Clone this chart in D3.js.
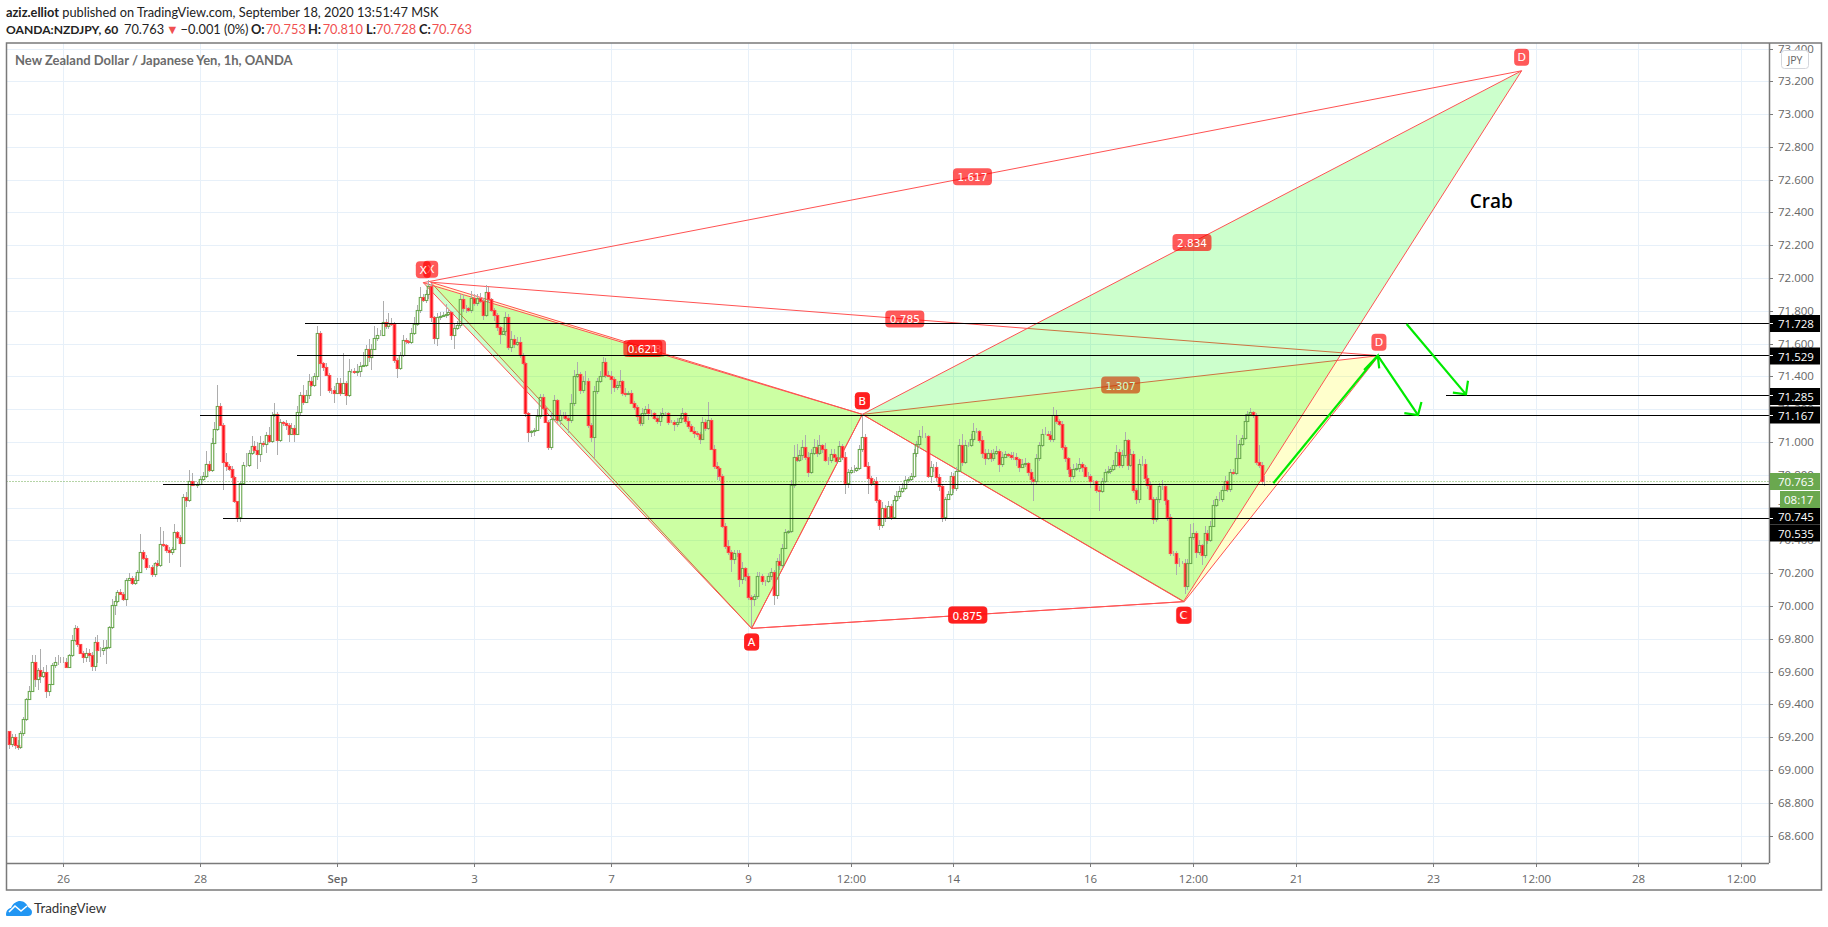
<!DOCTYPE html>
<html><head><meta charset="utf-8">
<script src="https://cdnjs.cloudflare.com/ajax/libs/d3/7.8.5/d3.min.js"></script>
<style>html,body{margin:0;padding:0;background:#fff;overflow:hidden}svg{display:block}</style>
</head><body><svg id="c" width="1828" height="927"></svg>
<script>
const firstOpen = 69.24;
const closes = [
69.16,69.20,69.15,69.14,69.225,69.31,69.43,69.48,69.66,69.555,
69.61,69.57,69.60,69.48,69.525,69.64,69.66,69.66,69.66,69.66,
69.63,69.70,69.79,69.865,69.77,69.715,69.69,69.715,69.70,69.635,
69.78,69.73,69.73,69.745,69.75,69.87,70.005,70.03,70.085,70.075,
70.04,70.16,70.17,70.14,70.16,70.21,70.33,70.29,70.24,70.24,
70.195,70.26,70.25,70.38,70.37,70.34,70.33,70.35,70.45,70.42,
70.385,70.665,70.645,70.76,70.74,70.74,70.745,70.775,70.79,70.865,
70.83,70.995,71.08,71.22,71.105,70.88,70.855,70.835,70.785,70.64,
70.545,70.75,70.86,70.86,70.93,70.975,70.95,70.925,70.995,70.99,
71.04,71.005,71.165,71.17,71.01,71.12,71.115,71.105,71.05,71.085,
71.05,71.18,71.285,71.245,71.285,71.375,71.345,71.40,71.665,71.48,
71.46,71.41,71.32,71.32,71.30,71.36,71.30,71.36,71.285,71.435,
71.43,71.425,71.435,71.465,71.47,71.57,71.52,71.57,71.635,71.655,
71.655,71.73,71.71,71.725,71.72,71.50,71.45,71.53,71.625,71.615,
71.61,71.665,71.72,71.805,71.885,71.865,71.90,71.95,71.76,71.635,
71.765,71.77,71.775,71.78,71.79,71.655,71.695,71.715,71.87,71.815,
71.815,71.805,71.88,71.85,71.88,71.86,71.775,71.915,71.87,71.805,
71.775,71.70,71.66,71.675,71.76,71.58,71.63,71.595,71.61,71.53,
71.48,71.175,71.06,71.065,71.075,71.16,71.275,71.205,71.125,70.97,
71.14,71.255,71.135,71.165,71.165,71.145,71.135,71.24,71.40,71.415,
71.32,71.37,71.37,71.105,71.03,71.31,71.37,71.405,71.49,71.41,
71.405,71.385,71.335,71.35,71.37,71.30,71.295,71.30,71.24,71.215,
71.16,71.115,71.175,71.20,71.175,71.175,71.145,71.13,71.165,71.175,
71.175,71.125,71.125,71.11,71.125,71.145,71.175,71.13,71.10,71.07,
71.055,71.05,71.02,71.12,71.085,71.135,70.96,70.855,70.84,70.795,
70.485,70.365,70.33,70.285,70.32,70.32,70.165,70.23,70.18,70.055,
70.04,70.06,70.185,70.185,70.15,70.15,70.18,70.21,70.065,70.275,
70.25,70.355,70.45,70.455,70.74,70.91,70.89,70.92,70.97,70.91,
70.815,70.93,70.97,70.93,70.98,70.955,70.89,70.89,70.925,70.91,
70.885,70.975,70.91,70.75,70.815,70.83,70.83,70.84,70.96,71.03,
70.855,70.78,70.75,70.765,70.645,70.495,70.595,70.545,70.61,70.545,
70.645,70.67,70.70,70.72,70.77,70.775,70.79,70.93,70.985,71.035,
71.035,71.035,70.79,70.845,70.845,70.785,70.73,70.54,70.655,70.68,
70.79,70.72,70.825,70.98,70.875,70.98,70.98,71.02,71.065,71.065,
71.015,70.935,70.90,70.93,70.905,70.93,70.945,70.865,70.91,70.925,
70.92,70.91,70.91,70.895,70.85,70.865,70.87,70.815,70.775,70.76,
70.905,70.98,71.05,71.05,71.045,71.02,71.165,71.13,71.11,70.97,
70.90,70.835,70.795,70.835,70.84,70.865,70.85,70.795,70.795,70.76,
70.76,70.71,70.70,70.76,70.815,70.825,70.835,70.86,70.94,70.86,
70.92,71.01,70.86,70.925,70.71,70.65,70.865,70.865,70.78,70.735,
70.655,70.53,70.655,70.73,70.73,70.645,70.54,70.325,70.325,70.26,
70.265,70.265,70.12,70.265,70.42,70.445,70.33,70.37,70.31,70.445,
70.40,70.49,70.615,70.65,70.655,70.71,70.76,70.715,70.815,70.81,
70.905,70.985,71.025,71.13,71.17,71.18,71.165,70.88,70.86,70.76,70.763];
// wick lengths above / below the body, in hundredths of a yen
const wickUp = [
0,2,2,3,1,1,1,3,4,4, 1,13,3,4,0,1,3,4,3,3, 2,1,3,2,1,0,1,3,2,2, 3,4,2,5,4,1,4,3,1,2,
1,1,3,1,2,1,11,1,2,1, 1,1,2,10,8,1,2,1,5,1, 1,2,3,7,5,2,1,2,3,8, 2,3,4,13,2,1,5,1,2,1,
0,1,2,7,2,6,3,5,4,1, 2,5,2,7,1,2,1,2,1,3, 2,4,2,6,3,4,2,2,4,1, 1,2,1,1,2,3,3,18,1,7,
1,2,4,2,8,2,6,3,7,4, 3,13,2,6,3,1,1,2,3,1, 1,3,4,3,6,2,3,4,2,1, 2,2,2,6,2,1,3,2,3,3,
2,1,4,2,2,3,2,4,3,1, 1,1,1,2,3,2,5,2,3,3, 1,1,1,1,1,4,2,2,1,1, 4,3,1,3,2,2,2,5,4,7,
1,3,6,2,1,3,2,3,3,2, 2,3,1,2,7,1,3,1,2,1, 1,1,3,2,3,2,1,2,2,3, 1,1,1,1,2,2,3,1,2,1,
2,1,1,3,2,11,1,2,2,1, 1,2,4,1,2,2,2,4,1,2, 1,1,2,2,1,1,2,2,1,2, 4,2,2,1,3,7,8,3,4,7,
3,3,5,4,6,1,4,2,3,3, 1,3,1,3,2,2,3,1,2,14, 2,2,1,1,2,1,4,2,3,1, 3,3,3,3,2,1,2,3,2,4,
6,2,1,4,2,3,2,1,1,2, 3,2,2,4,7,3,2,3,5,2, 1,2,2,3,2,3,3,1,3,2, 1,2,3,2,1,3,3,1,2,1,
2,2,3,4,2,2,5,3,1,2, 1,1,1,3,3,4,1,1,2,1, 1,1,2,2,2,3,1,3,4,2, 3,5,1,3,2,1,3,5,3,2,
2,1,1,2,4,1,1,2,1,1, 3,1,2,2,8,6,1,3,1,4, 2,3,3,2,4,2,3,1,2,2, 14,3,2,4,2,3,1,1,10,2,3];
const wickDown = [
3,2,2,2,1,2,1,0,0,5, 7,4,1,4,3,1,2,2,1,1, 1,1,1,1,2,1,4,3,4,3, 3,8,4,3,10,1,1,6,1,1,
1,4,1,1,1,1,1,1,2,1, 2,2,1,1,1,2,7,2,1,1, 15,1,4,1,1,1,2,1,1,1, 1,1,1,1,1,17,3,1,4,1,
3,3,1,1,1,1,2,9,5,2, 6,1,1,1,9,1,2,3,5,1, 5,1,2,2,1,2,1,1,2,20, 3,1,2,3,6,1,2,1,6,1,
1,1,2,4,1,1,3,8,1,2, 1,1,2,2,1,2,6,1,1,2, 1,1,1,1,2,1,2,3,3,4, 5,2,1,2,1,3,9,1,2,2,
3,1,2,2,2,1,3,1,2,1, 4,2,6,1,3,2,3,2,1,2, 1,2,6,3,3,1,2,1,1,2, 2,1,2,3,2,1,8,2,2,1,
3,2,2,2,3,13,2,1,1,2, 1,9,3,2,2,2,2,1,1,2, 3,2,2,1,4,2,1,2,3,2, 1,2,1,4,2,1,1,2,2,1,
3,2,3,1,2,1,1,2,7,3, 1,2,2,8,3,2,5,3,3,2, 17,4,2,1,2,3,1,2,6,2, 3,2,1,1,1,2,1,1,3,2,
3,1,1,2,1,2,1,3,2,1, 2,1,2,7,3,1,2,1,1,2, 1,10,2,1,2,3,2,3,1,2, 1,1,2,1,1,2,1,1,2,2,
1,1,1,4,3,2,3,3,2,1, 1,3,2,1,2,1,1,1,2,1, 2,3,4,1,3,2,1,5,2,1, 1,2,2,4,3,1,2,2,3,12,
2,2,1,1,1,2,2,2,1,2, 2,3,4,2,1,2,3,1,2,4, 2,2,12,1,1,1,2,1,1,2, 2,2,3,1,2,3,2,1,2,2,
1,3,2,3,2,3,2,2,2,7, 2,1,5,2,1,2,4,2,6,2, 2,1,1,1,1,2,1,2,2,1, 1,1,1,1,1,1,2,2,2,2,3];

const timeTickBars = [19,67,115,163,211,259,295,331,379,415,451,499,535,571,607];
const timeTickLabels = ["26","28","Sep","3","7","9","12:00","14","16","12:00","21","23","12:00","28","12:00"];
const priceTicks = [68.6,68.8,69,69.2,69.4,69.6,69.8,70,70.2,70.4,70.6,70.8,71,71.2,71.4,71.6,71.8,72,72.2,72.4,72.6,72.8,73,73.2,73.4];

const levelPrices = [71.728,71.529,71.285,71.167,70.745,70.535];
const levelStartBars = [103.6,100.8,503.7,67,54,75];
const lastPrice = 70.763;

// harmonic patterns: vertices as [bar, price]
const crabGreen = {X:[145.06,71.974],A:[260.1,69.866],B:[298.9,71.171],C:[411.4,70.029],D:[529.9,73.266]};
const crabYellow = {X:[147.65,71.977],A:[260.1,69.866],B:[298.9,71.171],C:[411.7,70.029],D:[479.9,71.529]};
const greenRatios = {XB:"0.621",AC:"0.875",BD:"2.834",XD:"1.617"};
const yellowRatios = {XB:"0.618",AC:"0.875",BD:"1.307",XD:"0.785"};

// hand-drawn green arrows: start, tip, barb, barb as [bar, price]
const arrows = [
 [[442.9,70.751],[479.5,71.529],[480.0,71.452],[474.7,71.441]],
 [[479.5,71.529],[493.6,71.167],[494.8,71.246],[488.8,71.179]],
 [[489.6,71.722],[510.4,71.293],[511.1,71.376],[505.8,71.303]]
];
const noteText = "Crab", notePos = [519.3,72.47];

const W=1828,H=927, L=6.5,T=43,R=1769,B=863, OUTR=1821.5, OUTB=890;
const FONT='"Open Sans",sans-serif';
const svg=d3.select("#c");
const x=d3.scaleLinear().domain([0,607]).rangeRound([9,1741]);
const y=d3.scaleLinear().domain([68.6,73.4]).rangeRound([835.5,48.5]);
const xf=d3.scaleLinear().domain([0,607]).range([9.3,9.3+2.854*607]);
const yf=d3.scaleLinear().domain([68.6,73.4]).range([836,48.8]);

svg.append("defs").append("clipPath").attr("id","plot").append("rect")
  .attr("x",L).attr("y",T).attr("width",R-L).attr("height",B-T);

const plot=svg.append("g").attr("clip-path","url(#plot)");
// grid
const gridC="#e7f0f9";
const gy=plot.append("g").attr("transform",`translate(${L},0)`).call(d3.axisRight(y).tickValues(priceTicks).tickSize(R-L).tickFormat(""));
const gx=plot.append("g").attr("transform",`translate(0,${T})`).call(d3.axisBottom(x).tickValues(timeTickBars).tickSize(B-T).tickFormat(""));
[gy,gx].forEach(g=>{g.select(".domain").remove();g.selectAll("line").attr("stroke",gridC);});

// last price dotted line
plot.append("line").attr("x1",L).attr("x2",R).attr("y1",y(lastPrice)+.5).attr("y2",y(lastPrice)+.5)
 .attr("stroke","#6aa84f").attr("stroke-dasharray","1 2");

function P(p){return [xf(p[0]),yf(p[1])];}
function mid(a,b){const p=P(a),q=P(b);return[(p[0]+q[0])/2,(p[1]+q[1])/2];}
const line=d3.line();
function tag(g,pos,text,w){
  const h=17;
  g.append("rect").attr("x",pos[0]-w/2).attr("y",pos[1]-h/2).attr("width",w).attr("height",h).attr("rx",4)
    .attr("fill","rgba(255,0,0,.65)");
  g.append("text").attr("x",pos[0]).attr("y",pos[1]+.5).attr("text-anchor","middle").attr("dominant-baseline","central")
    .attr("font-family",'"DejaVu Sans",sans-serif').attr("font-size",w>20?10.5:11).attr("fill","#fff").text(text);
}
function pattern(pt,ratios,fill){
  const g=plot.append("g");
  [[pt.X,pt.A,pt.B],[pt.B,pt.C,pt.D]].forEach(t=>{
    g.append("path").attr("d",line(t.map(P))+"Z").attr("fill",fill).attr("stroke","none");
  });
  [[pt.X,pt.A],[pt.A,pt.B],[pt.B,pt.C],[pt.C,pt.D],[pt.X,pt.B],[pt.B,pt.D],[pt.A,pt.C],[pt.X,pt.D]].forEach(s=>{
    g.append("path").attr("d",line(s.map(P))).attr("fill","none").attr("stroke","#ff5252").attr("stroke-width",1);
  });
  tag(g,mid(pt.X,pt.B),ratios.XB,39);
  tag(g,mid(pt.A,pt.C),ratios.AC,39);
  tag(g,mid(pt.B,pt.D),ratios.BD,39);
  tag(g,mid(pt.X,pt.D),ratios.XD,39);
  const off=(p,dy)=>{const q=P(p);return[q[0],q[1]+dy];};
  tag(g,off(pt.X,-13),"X",15);
  tag(g,off(pt.A,13.5),"A",15);
  tag(g,off(pt.B,-13.5),"B",15);
  tag(g,off(pt.C,13.5),"C",15);
  tag(g,off(pt.D,-13.5),"D",15);
}
pattern(crabYellow,yellowRatios,"rgba(255,255,0,.2)");
pattern(crabGreen,greenRatios,"rgba(0,255,0,.2)");

// candles: hollow green, filled red, drawn over the pattern fills
const bars=closes.map((c,i)=>{const o=i?closes[i-1]:firstOpen;return{i,o,c,h:Math.max(o,c)+wickUp[i]/100,l:Math.min(o,c)-wickDown[i]/100};});
const cg=plot.append("g");
cg.selectAll("path").data(bars).join("path")
 .attr("d",d=>{const X=x(d.i)+.5;return `M${X},${y(d.h)}V${y(Math.max(d.o,d.c))}M${X},${y(Math.min(d.o,d.c))}V${y(d.l)}`;})
 .attr("fill","none").attr("stroke","#adadad");
cg.selectAll("rect").data(bars).join("rect")
 .attr("x",d=>x(d.i)-.75).attr("width",2.5)
 .attr("y",d=>y(Math.max(d.o,d.c))+.5)
 .attr("height",d=>Math.abs(y(d.o)-y(d.c)))
 .attr("fill",d=>d.c>=d.o?"none":"#ff0f1f")
 .attr("stroke",d=>d.c>=d.o?"#6aa84f":"#ff4a4a")
 .attr("stroke-width",1.1);

// black levels
plot.append("g").selectAll("line").data(levelPrices).join("line")
 .attr("x1",(d,i)=>x(levelStartBars[i])).attr("x2",R)
 .attr("y1",d=>y(d)+.5).attr("y2",d=>y(d)+.5).attr("stroke","#000");

// green arrows
arrows.forEach(a=>{
  const g=plot.append("g").attr("fill","none").attr("stroke","#00ea00").attr("stroke-width",2.2);
  g.append("path").attr("d",line([a[0],a[1]].map(P)));
  g.append("path").attr("d",line([a[2],a[1],a[3]].map(P)));
});
plot.append("text").attr("x",xf(notePos[0])).attr("y",yf(notePos[1])).attr("text-anchor","middle")
 .attr("dominant-baseline","central").attr("font-family",FONT).attr("font-weight",600).attr("font-size",19).attr("fill","#000").text(noteText);

// frame
svg.append("rect").attr("x",L).attr("y",T).attr("width",OUTR-L).attr("height",OUTB-T).attr("fill","none").attr("stroke","#7a7a7a").attr("stroke-width",1.5);

// axes
const axisC="#7a7a7a", textC="#666";
const ax=svg.append("g").attr("transform",`translate(${R},0)`).call(d3.axisRight(y).tickValues(priceTicks).tickSize(4).tickPadding(5).tickFormat(d3.format(".3f")));
const bx=svg.append("g").attr("transform",`translate(0,${B})`).call(d3.axisBottom(x).tickValues(timeTickBars).tickSize(4).tickPadding(8).tickFormat((d,i)=>timeTickLabels[i]));
[ax,bx].forEach(g=>{
  g.select(".domain").attr("stroke",axisC).attr("stroke-width",1.5);
  g.selectAll("line").attr("stroke",axisC);
  g.selectAll("text").attr("font-family",FONT).attr("font-size",11.5).attr("fill",textC);
});
ax.select(".domain").attr("d",`M0.5,${T}V${B}`);
bx.select(".domain").attr("d",`M${L},0.5H${R}`);
bx.selectAll("text").filter((d,i)=>timeTickLabels[i]==="Sep").attr("font-weight",600);

// price tags
const tagYs=[323.5,356,396.5,415,516,533];
const tags=svg.append("g");
function priceTag(yc,text,fill,x0){
  tags.append("rect").attr("x",x0).attr("y",yc-8.5).attr("width",1820-x0).attr("height",17).attr("fill",fill);
  tags.append("text").attr("x",1778).attr("y",yc).attr("dominant-baseline","central")
   .attr("font-family",FONT).attr("font-size",11.5).attr("fill","#fff").text(text);
}
levelPrices.forEach((p,i)=>{
  priceTag(tagYs[i],d3.format(".3f")(p),"#000",1770);
  tags.append("line").attr("x1",1770).attr("x2",1773).attr("y1",y(p)+.5).attr("y2",y(p)+.5).attr("stroke","#fff");
});
priceTag(481.5,d3.format(".3f")(lastPrice),"#6aa84f",1770);
tags.append("rect").attr("x",1780).attr("y",491).attr("width",40).attr("height",17).attr("fill","#6aa84f");
tags.append("text").attr("x",1784).attr("y",499.5).attr("dominant-baseline","central").attr("font-family",FONT).attr("font-size",11.5).attr("fill","#fff").text("08:17");

// JPY box
svg.append("rect").attr("x",1781.5).attr("y",50.5).attr("width",27).attr("height",18).attr("rx",3).attr("fill","#fff").attr("stroke","#d4d6dc");
svg.append("text").attr("x",1795).attr("y",59.5).attr("text-anchor","middle").attr("dominant-baseline","central").attr("font-family",FONT).attr("font-size",10.5).attr("fill","#666").text("JPY");

// header text
const HF='Lato,sans-serif', RED="#f05050";
const h1=svg.append("text").attr("x",6).attr("y",17).attr("font-family",HF).attr("font-size",12.8).attr("fill","#222");
h1.append("tspan").attr("font-weight",700).text("aziz.elliot");
h1.append("tspan").text(" published on TradingView.com, September 18, 2020 13:51:47 MSK");
const h2=svg.append("text").attr("y",34).attr("font-family",HF).attr("font-size",12.8).attr("fill","#222");
[["OANDA:NZDJPY, 60",6,700,null,12.1],["70.763",124,400,null],["▼",166,400,RED],["−0.001 (0%)",180.6,400,null],
 ["O:",251,700,null],["70.753",265.7,400,RED],["H:",308,700,null],["70.810",322.7,400,RED],
 ["L:",366,700,null],["70.728",376,400,RED],["C:",419,700,null],["70.763",431.7,400,RED]].forEach(s=>{
  const t=h2.append("tspan").attr("x",s[1]).attr("font-weight",s[2]).text(s[0]);
  if(s[3]) t.attr("fill",s[3]);
  if(s[4]) t.attr("font-size",s[4]);
});
svg.append("text").attr("x",15).attr("y",65).attr("font-family",HF).attr("font-weight",700).attr("font-size",13).attr("fill","#6b6b6b")
  .text("New Zealand Dollar / Japanese Yen, 1h, OANDA");

// logo
svg.append("path").attr("d","M6,915 C6,910 9,908 11,908 C13,903 17,901 20,901 C24,901 27,904 28,907 C30,908 32,910 32,912 C32,915 30,916 28,916 L8,916 C7,916 6,916 6,915Z").attr("fill","#2196f3");
svg.append("path").attr("d","M9,912 L15,906 L21,911 L27,906").attr("fill","none").attr("stroke","#fff").attr("stroke-width",1.6);
svg.append("text").attr("x",34).attr("y",913).attr("font-family",HF).attr("font-size",13.4).attr("fill","#333").text("TradingView");
</script></body></html>
